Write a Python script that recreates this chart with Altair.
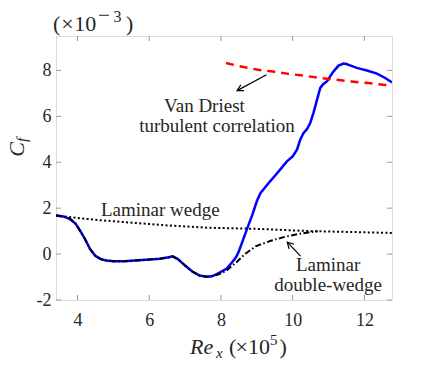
import altair as alt
import pandas as pd

# ---------------- data ----------------
x_ticks = [4, 6, 8, 10, 12]
y_ticks = [-2, 0, 2, 4, 6, 8]

# simulation (blue, solid)
blue_x = [3.40, 3.60, 3.80, 3.95, 4.10, 4.20, 4.35, 4.50, 4.65, 4.80, 5.00, 5.30,
          5.60, 6.00, 6.30, 6.55, 6.65, 6.80, 7.00, 7.20, 7.40, 7.60, 7.75, 7.95,
          8.15, 8.30, 8.42, 8.50, 8.60, 8.74, 8.88, 9.00, 9.10, 9.20, 9.37, 9.50,
          9.65, 9.84, 10.00, 10.12, 10.21, 10.30, 10.40, 10.49, 10.58, 10.68, 10.77,
          10.85, 10.96, 11.05, 11.14, 11.28, 11.42, 11.50, 11.60, 11.79, 12.07,
          12.35, 12.58, 12.77]
blue_y = [1.68, 1.64, 1.52, 1.32, 0.95, 0.68, 0.22, -0.08, -0.22, -0.28, -0.31, -0.31,
          -0.28, -0.24, -0.20, -0.14, -0.10, -0.22, -0.50, -0.76, -0.93, -0.99, -0.97, -0.82,
          -0.64, -0.38, -0.14, 0.12, 0.55, 1.15, 1.73, 2.30, 2.65, 2.85, 3.17, 3.40,
          3.68, 4.04, 4.25, 4.55, 4.98, 5.27, 5.45, 5.71, 6.15, 6.73, 7.24,
          7.40, 7.53, 7.75, 7.96, 8.21, 8.30, 8.28, 8.22, 8.11, 8.00,
          7.86, 7.67, 7.48]

# laminar double-wedge (black, dash-dot)
dw_x = [3.40, 3.60, 3.80, 3.95, 4.10, 4.20, 4.35, 4.50, 4.65, 4.80, 5.00, 5.30,
        5.60, 6.00, 6.30, 6.55, 6.65, 6.80, 7.00, 7.20, 7.40, 7.60, 7.70, 7.90,
        8.14, 8.42, 8.70, 8.98, 9.37, 9.75, 10.21, 10.50, 10.70]
dw_y = [1.68, 1.64, 1.52, 1.32, 0.95, 0.68, 0.22, -0.08, -0.22, -0.28, -0.31, -0.31,
        -0.28, -0.24, -0.20, -0.14, -0.10, -0.22, -0.50, -0.76, -0.93, -0.99, -0.97, -0.90,
        -0.74, -0.37, 0.04, 0.35, 0.57, 0.74, 0.89, 0.96, 0.99]

# laminar wedge (black, dotted)
lw_x = [3.40, 4.00, 4.60, 5.50, 6.50, 7.60, 9.00, 10.50, 11.70, 12.77]
lw_y = [1.68, 1.57, 1.48, 1.37, 1.25, 1.15, 1.10, 1.00, 0.96, 0.92]

# Van Driest turbulent correlation (red, dashed)
vd_x = [8.14, 8.56, 9.03, 9.45, 9.88, 10.33, 10.75, 11.17, 11.64, 12.10, 12.52, 12.77]
vd_y = [8.32, 8.17, 8.03, 7.95, 7.85, 7.77, 7.67, 7.60, 7.52, 7.45, 7.38, 7.35]

# annotation texts (data coordinates)
note_text = ["Laminar wedge", "Van Driest", "turbulent correlation", "Laminar", "double-wedge"]
note_x = [6.31, 7.54, 7.89, 10.99, 10.99]
note_y = [1.68, 6.19, 5.32, -0.74, -1.61]

# arrows (tail -> head, data coordinates) and head direction in degrees
arrow_x1 = [9.27, 10.22]
arrow_y1 = [7.81, -0.09]
arrow_x2 = [8.45, 9.85]
arrow_y2 = [7.12, 0.52]
arrow_angle = [151.4, 226.5]

# ---------------- chart ----------------
W, H = 336, 264
FRAME = "#9a9a9a"
TXT = "#262626"
SERIF = "Liberation Serif"

xs = alt.Scale(domain=[3.4, 12.77], nice=False, zero=False)
ys = alt.Scale(domain=[-2, 9.5], nice=False, zero=False)

blue = pd.DataFrame({"x": blue_x, "y": blue_y})
dw = pd.DataFrame({"x": dw_x, "y": dw_y})
lw = pd.DataFrame({"x": lw_x, "y": lw_y})
vd = pd.DataFrame({"x": vd_x, "y": vd_y})
notes = pd.DataFrame({"t": note_text, "x": note_x, "y": note_y})
arrows = pd.DataFrame({"x1": arrow_x1, "y1": arrow_y1, "x2": arrow_x2, "y2": arrow_y2,
                       "a": arrow_angle})
xt = pd.DataFrame({"v": x_ticks})
yt = pd.DataFrame({"v": y_ticks})

x_axis = alt.Axis(values=x_ticks, title=None, grid=False, ticks=False, tickSize=0,
                  domain=False, labelFont=SERIF, labelFontSize=18, labelColor=TXT,
                  labelPadding=11)
y_axis = alt.Axis(values=y_ticks, title=None, grid=False, ticks=False, tickSize=0,
                  domain=False, labelFont=SERIF, labelFontSize=18, labelColor=TXT,
                  labelPadding=5, labelExpr="'' + datum.value")


def X(field):
    return alt.X(field, type="quantitative", scale=xs, axis=x_axis)


def Y(field):
    return alt.Y(field, type="quantitative", scale=ys, axis=y_axis)


def line(df, **kw):
    return alt.Chart(df).mark_line(clip=True, **kw).encode(x=X("x"), y=Y("y"))


lw_line = line(lw, color="black", strokeWidth=2, strokeDash=[2, 2.4])
blue_line = line(blue, color="#0000ff", strokeWidth=2.5)
dw_line = line(dw, color="black", strokeWidth=2, strokeDash=[6, 2.5, 1.5, 2.5])
vd_line = line(vd, color="#ff0000", strokeWidth=2.5, strokeDash=[8, 6])

# inward ticks on all four sides
tick_b = alt.Chart(xt).mark_rule(color=FRAME, strokeWidth=1).encode(
    x=X("v"), y=alt.value(H), y2=alt.value(H - 5))
tick_t = alt.Chart(xt).mark_rule(color=FRAME, strokeWidth=1).encode(
    x=X("v"), y=alt.value(0), y2=alt.value(5))
tick_l = alt.Chart(yt).mark_rule(color=FRAME, strokeWidth=1).encode(
    y=Y("v"), x=alt.value(0), x2=alt.value(5))
tick_r = alt.Chart(yt).mark_rule(color=FRAME, strokeWidth=1).encode(
    y=Y("v"), x=alt.value(W), x2=alt.value(W - 5))

note_layer = alt.Chart(notes).mark_text(
    font=SERIF, fontSize=19, color=TXT, align="center", baseline="alphabetic"
).encode(x=X("x"), y=Y("y"), text="t:N")

arrow_line = alt.Chart(arrows).mark_rule(color="black", strokeWidth=1.2).encode(
    x=X("x1"), y=Y("y1"), x2="x2:Q", y2="y2:Q")
arrow_head = alt.Chart(arrows).mark_point(
    shape="M -1 -0.55 L 0 0 L -1 0.55", filled=False, color="black",
    strokeWidth=1.2, size=150, opacity=1
).encode(x=X("x2"), y=Y("y2"), angle=alt.Angle("a:Q", scale=None))

one = pd.DataFrame({"k": [0]})


def label(text, px, py, size, italic=False, align="left", angle=0):
    kw = dict(text=text, font=SERIF, fontSize=size, color=TXT, align=align,
              baseline="alphabetic")
    if italic:
        kw["fontStyle"] = "italic"
    if angle:
        kw["angle"] = angle
    return alt.Chart(one).mark_text(**kw).encode(x=alt.value(px), y=alt.value(py))


titles = [
    # x-axis title: Re_x (x10^5)
    label("Re", 134, 318, 22, italic=True),
    label("x", 160, 322, 15, italic=True),
    label("(", 173, 318, 22),
    label("×", 185.7, 318, 22, align="center"),
    label("10", 192, 318, 22),
    label("5", 214, 309, 15),
    label(")", 223.5, 318, 22),
    # y exponent: (x10^-3)
    label("(", -3, -5, 22),
    label("×", 11.5, -5, 22, align="center"),
    label("10", 18.3, -5, 22),
    label("−", 42, -14, 21),
    label("3", 57.5, -14, 16),
    label(")", 70, -5, 22),
    # y-axis title: C_f
    label("C", -32, 120.7, 22, italic=True, angle=270),
    label("f", -29.5, 106, 15, italic=True, angle=270),
]

chart = alt.layer(
    lw_line, blue_line, dw_line, vd_line,
    tick_b, tick_t, tick_l, tick_r,
    note_layer, arrow_line, arrow_head, *titles
).properties(
    width=W, height=H,
    autosize=alt.AutoSizeParams(type="none"),
    padding={"left": 48, "top": 28, "right": 35, "bottom": 60},
).configure_view(
    stroke=FRAME, strokeWidth=1
).configure(background="white")

chart.save("out.html", embed_options={"renderer": "svg", "actions": False})
